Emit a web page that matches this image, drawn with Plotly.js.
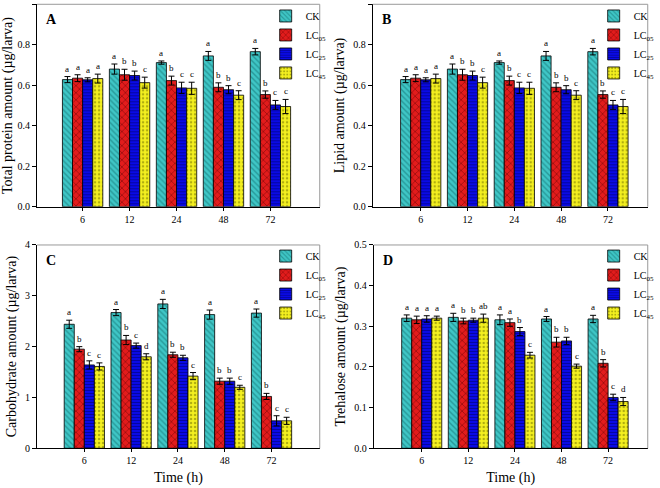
<!DOCTYPE html>
<html>
<head>
<meta charset="utf-8">
<script src="https://cdn.plot.ly/plotly-3.0.1.min.js"></script>
<style>html,body{margin:0;padding:0;background:#fff}#chart{width:660px;height:488px}</style>
</head>
<body>
<div id="chart"></div>
<script>
// ---- data ----
const times = ["6", "12", "24", "48", "72"];
const seriesNames = ["CK", "LC<sub>05</sub>", "LC<sub>25</sub>", "LC<sub>45</sub>"];

// Panel A: total protein (µg/larva)
const proteinCK   = [0.628, 0.680, 0.712, 0.745, 0.766];
const proteinLC05 = [0.635, 0.652, 0.623, 0.590, 0.554];
const proteinLC25 = [0.627, 0.648, 0.587, 0.578, 0.503];
const proteinLC45 = [0.633, 0.613, 0.585, 0.551, 0.495];
const proteinErrCK   = [0.015, 0.025, 0.008, 0.022, 0.016];
const proteinErrLC05 = [0.017, 0.027, 0.022, 0.022, 0.018];
const proteinErrLC25 = [0.010, 0.022, 0.028, 0.020, 0.022];
const proteinErrLC45 = [0.022, 0.027, 0.030, 0.022, 0.035];
const proteinLetters = [["a","a","a","a"],["a","b","b","c"],["a","b","c","c"],["a","b","b","c"],["a","b","c","c"]];

// Panel B: lipid (µg/larva)
const lipidCK   = [0.628, 0.680, 0.712, 0.745, 0.766];
const lipidLC05 = [0.635, 0.652, 0.623, 0.590, 0.554];
const lipidLC25 = [0.627, 0.648, 0.587, 0.578, 0.503];
const lipidLC45 = [0.633, 0.613, 0.585, 0.551, 0.495];
const lipidErrCK   = [0.015, 0.025, 0.008, 0.022, 0.016];
const lipidErrLC05 = [0.017, 0.027, 0.022, 0.022, 0.018];
const lipidErrLC25 = [0.010, 0.022, 0.028, 0.020, 0.022];
const lipidErrLC45 = [0.022, 0.027, 0.030, 0.022, 0.035];
const lipidLetters = [["a","a","a","a"],["a","b","b","c"],["a","b","c","c"],["a","b","b","c"],["a","b","c","c"]];

// Panel C: carbohydrate (µg/larva)
const carbCK   = [2.44, 2.67, 2.84, 2.63, 2.66];
const carbLC05 = [1.95, 2.13, 1.84, 1.32, 1.02];
const carbLC25 = [1.64, 2.02, 1.78, 1.32, 0.54];
const carbLC45 = [1.61, 1.80, 1.42, 1.20, 0.54];
const carbErrCK   = [0.08, 0.06, 0.09, 0.09, 0.08];
const carbErrLC05 = [0.05, 0.09, 0.05, 0.06, 0.06];
const carbErrLC25 = [0.08, 0.05, 0.05, 0.06, 0.10];
const carbErrLC45 = [0.07, 0.06, 0.07, 0.04, 0.07];
const carbLetters = [["a","b","c","c"],["a","b","c","d"],["a","b","b","c"],["a","b","b","c"],["a","b","c","c"]];

// Panel D: trehalose (µg/larva)
const treCK   = [0.320, 0.322, 0.316, 0.318, 0.318];
const treLC05 = [0.316, 0.313, 0.309, 0.261, 0.209];
const treLC25 = [0.318, 0.315, 0.287, 0.264, 0.125];
const treLC45 = [0.320, 0.320, 0.229, 0.202, 0.115];
const treErrCK   = [0.008, 0.010, 0.012, 0.006, 0.009];
const treErrLC05 = [0.009, 0.007, 0.009, 0.012, 0.009];
const treErrLC25 = [0.008, 0.005, 0.010, 0.009, 0.008];
const treErrLC45 = [0.005, 0.010, 0.007, 0.005, 0.010];
const treLetters = [["a","a","a","a"],["a","b","b","ab"],["a","a","b","c"],["a","b","b","c"],["a","b","c","d"]];

// ---- styling ----
const FONT = "Liberation Serif, Times New Roman, serif";
const BARGAP = 0.14;
const styles = [
  {bg: "#3fc6c6", fg: "#126b6b", shape: "\\", size: 4, sol: 0.35},
  {bg: "#e21c1c", fg: "#5a0000", shape: "x", size: 5, sol: 0.3},
  {bg: "#0a0ae6", fg: "#00005a", shape: "-", size: 3, sol: 0.35},
  {bg: "#f4f020", fg: "#6a6a00", shape: ".", size: 4, sol: 0.3}
];

const panels = [
  {key: "A", vals: [proteinCK, proteinLC05, proteinLC25, proteinLC45],
   errs: [proteinErrCK, proteinErrLC05, proteinErrLC25, proteinErrLC45], letters: proteinLetters,
   title: "Total protein amount (µg/larva)", yrange: [0, 1.0], dtick: 0.2, fmt: ".1f",
   xdom: [0.0565, 0.4874], ydom: [0.5764, 0.9912], xrange: [-0.97, 5.05], xtitle: "",
   leg: {x: 0.405, y: 0.997}},
  {key: "B", vals: [lipidCK, lipidLC05, lipidLC25, lipidLC45],
   errs: [lipidErrCK, lipidErrLC05, lipidErrLC25, lipidErrLC45], letters: lipidLetters,
   title: "Lipid amount (µg/larva)", yrange: [0, 1.0], dtick: 0.2, fmt: ".1f",
   xdom: [0.5682, 0.9874], ydom: [0.5764, 0.9912], xrange: [-1.025, 4.85], xtitle: "",
   leg: {x: 0.905, y: 0.997}},
  {key: "C", vals: [carbCK, carbLC05, carbLC25, carbLC45],
   errs: [carbErrCK, carbErrLC05, carbErrLC25, carbErrLC45], letters: carbLetters,
   title: "Carbohydrate amount (µg/larva)", yrange: [0, 4], dtick: 1, fmt: "d",
   xdom: [0.0565, 0.4874], ydom: [0.0814, 0.498], xrange: [-1.01, 5.03], xtitle: "Time (h)",
   leg: {x: 0.405, y: 0.505}},
  {key: "D", vals: [treCK, treLC05, treLC25, treLC45],
   errs: [treErrCK, treErrLC05, treErrLC25, treErrLC45], letters: treLetters,
   title: "Trehalose amount (µg/larva)", yrange: [0, 0.5], dtick: 0.1, fmt: ".1f",
   xdom: [0.5697, 0.9874], ydom: [0.0814, 0.498], xrange: [-1.03, 4.85], xtitle: "Time (h)",
   leg: {x: 0.905, y: 0.505}}
];

const data = [];
const annotations = [];
const shapes = [];
const layout = {
  width: 660, height: 488,
  margin: {l: 0, r: 0, t: 0, b: 0},
  paper_bgcolor: "#ffffff", plot_bgcolor: "#ffffff",
  barmode: "group", bargap: BARGAP, bargroupgap: 0,
  font: {family: FONT, color: "#000"},
  showlegend: true
};

panels.forEach((p, pi) => {
  const n = pi + 1;
  const xa = "x" + (n === 1 ? "" : n), ya = "y" + (n === 1 ? "" : n);
  const legName = n === 1 ? "legend" : "legend" + n;
  const xKey = "xaxis" + (n === 1 ? "" : n), yKey = "yaxis" + (n === 1 ? "" : n);
  const barW = (1 - BARGAP) / 4;
  p.vals.forEach((v, si) => {
    const s = styles[si];
    data.push({
      type: "bar", x: times, y: v, name: seriesNames[si],
      xaxis: xa, yaxis: ya, legend: legName,
      marker: {color: s.bg, line: {color: "#000", width: 0.8},
               pattern: {shape: s.shape, fgcolor: s.fg, bgcolor: s.bg, size: s.size, solidity: s.sol, fillmode: "overlay"}},
      error_y: {type: "data", array: p.errs[si], visible: true, color: "#000", thickness: 1, width: 3},
      hoverinfo: "skip"
    });
    v.forEach((val, ti) => {
      annotations.push({
        xref: xa, yref: ya, x: ti + (si - 1.5) * barW, y: val + p.errs[si][ti],
        text: p.letters[ti][si], showarrow: false, yanchor: "bottom", yshift: 1,
        font: {family: FONT, size: 9, color: "#000"}
      });
    });
  });
  layout[xKey] = {
    domain: p.xdom, anchor: ya, type: "category", range: p.xrange,
    showline: true, linecolor: "#000", linewidth: 1, showgrid: false, zeroline: false,
    ticks: "outside", ticklen: 3, tickcolor: "#000", tickfont: {family: FONT, size: 10},
    title: {text: p.xtitle, font: {family: FONT, size: 14}, standoff: 6}
  };
  layout[yKey] = {
    domain: p.ydom, anchor: xa, range: p.yrange, dtick: p.dtick, tick0: 0, tickformat: p.fmt,
    showline: true, linecolor: "#000", linewidth: 1, showgrid: false, zeroline: false,
    ticks: "outside", ticklen: 4, tickcolor: "#000", tickfont: {family: FONT, size: 10},
    title: {text: p.title, font: {family: FONT, size: 14}, standoff: 5}
  };
  layout[legName] = {
    x: p.leg.x, y: p.leg.y, xanchor: "left", yanchor: "top",
    bgcolor: "rgba(0,0,0,0)", font: {family: FONT, size: 10},
    itemwidth: 30, tracegroupgap: 0, traceorder: "normal"
  };
  // panel letter
  annotations.push({xref: xa + " domain", yref: ya + " domain", x: 0.025, y: 0.97,
    xanchor: "left", yanchor: "top", text: "<b>" + p.key + "</b>", showarrow: false,
    font: {family: FONT, size: 14, color: "#000"}});
  // grey top and right frame
  shapes.push({type: "line", xref: xa + " domain", yref: ya + " domain", x0: 0, x1: 1, y0: 1, y1: 1, line: {color: "#9a9a9a", width: 1}});
  shapes.push({type: "line", xref: xa + " domain", yref: ya + " domain", x0: 1, x1: 1, y0: 0, y1: 1, line: {color: "#9a9a9a", width: 1}});
});

layout.annotations = annotations;
layout.shapes = shapes;

Plotly.newPlot("chart", data, layout, {displayModeBar: false, staticPlot: true});
</script>
</body>
</html>
